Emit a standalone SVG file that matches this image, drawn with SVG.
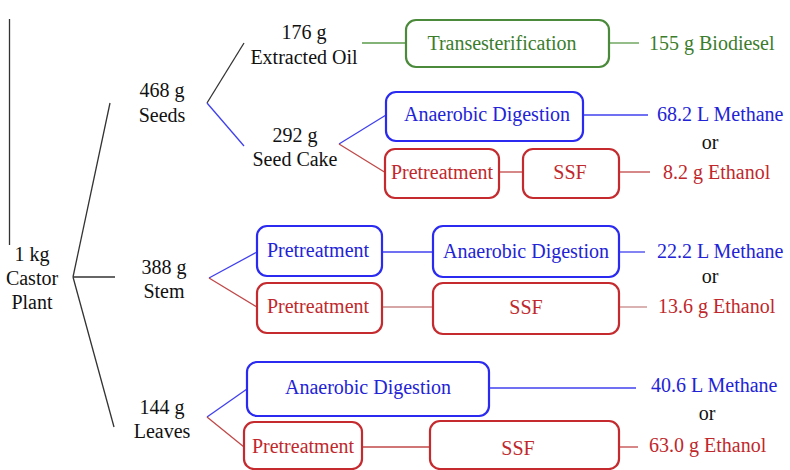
<svg xmlns="http://www.w3.org/2000/svg" width="790" height="470" viewBox="0 0 790 470">
  <style>
    .k { fill: #111; }
    .g { fill: #3b7d2c; }
    .b { fill: #2323d6; }
    .r { fill: #c0282c; }
    .mid { text-anchor: middle; }
    .box { fill: #fff; stroke-width: 2.2; }
    .bg { stroke: #4a8a3a; }
    .bb { stroke: #2a2af0; }
    .br { stroke: #c42a2e; }
    .ln { fill: none; stroke-width: 1.3; }
    .lk { stroke: #333; }
    .lg { stroke: #5a9a4a; }
    .lb { stroke: #4040ee; }
    .lr { stroke: #c04848; }
    .lp { stroke: #c88888; }
  </style>

  <!-- connectors -->
  <g id="connectors" class="ln">
    <line class="lk" x1="9.5" y1="19" x2="9.5" y2="245"/>
    <!-- plant to parts -->
    <line class="lk" x1="73" y1="277" x2="110" y2="103"/>
    <line class="lk" x1="73" y1="277" x2="115" y2="277"/>
    <line class="lk" x1="73" y1="277" x2="114" y2="427"/>
    <!-- seeds -->
    <line class="lk" x1="207" y1="103" x2="244" y2="43"/>
    <line class="lb" x1="207" y1="103" x2="244" y2="146"/>
    <line class="lg" x1="362" y1="43" x2="406" y2="43"/>
    <line class="lg" x1="609" y1="43" x2="639" y2="43"/>
    <!-- seed cake -->
    <line class="lb" x1="339" y1="144" x2="386" y2="115"/>
    <line class="lr" x1="339" y1="144" x2="386" y2="173"/>
    <line class="lb" x1="583" y1="115" x2="648" y2="115"/>
    <line class="lr" x1="499" y1="172" x2="523" y2="172"/>
    <line class="lr" x1="619" y1="172" x2="650" y2="172"/>
    <!-- stem -->
    <line class="lb" x1="209" y1="278" x2="257" y2="252"/>
    <line class="lr" x1="209" y1="278" x2="257" y2="307"/>
    <line class="lb" x1="382" y1="252" x2="433" y2="252"/>
    <line class="lb" x1="619" y1="252" x2="645" y2="252"/>
    <line class="lp" x1="382" y1="307" x2="433" y2="307"/>
    <line class="lp" x1="619" y1="307" x2="647" y2="307"/>
    <!-- leaves -->
    <line class="lb" x1="207" y1="417" x2="247" y2="389"/>
    <line class="lr" x1="207" y1="417" x2="244" y2="447"/>
    <line class="lb" x1="489" y1="388" x2="636" y2="388"/>
    <line class="lr" x1="362" y1="447" x2="430" y2="447"/>
    <line class="lr" x1="619" y1="447" x2="638" y2="447"/>
  </g>

  <g font-family="Liberation Serif, serif" font-size="20">
  <!-- source and fractions -->
  <g id="castor-plant">
    <text class="k mid" x="32" y="261">1 kg</text>
    <text class="k mid" x="32" y="285">Castor</text>
    <text class="k mid" x="32" y="309">Plant</text>
  </g>
  <g id="seeds">
    <text class="k mid" x="162" y="97">468 g</text>
    <text class="k mid" x="162" y="122">Seeds</text>
  </g>
  <g id="oil">
    <text class="k mid" x="304" y="39">176 g</text>
    <text class="k mid" x="304" y="64">Extracted Oil</text>
  </g>
  <g id="seed-cake">
    <text class="k mid" x="295" y="142">292 g</text>
    <text class="k mid" x="295" y="166">Seed Cake</text>
  </g>
  <g id="stem">
    <text class="k mid" x="164" y="274">388 g</text>
    <text class="k mid" x="164" y="298">Stem</text>
  </g>
  <g id="leaves">
    <text class="k mid" x="162" y="414">144 g</text>
    <text class="k mid" x="162" y="438">Leaves</text>
  </g>

  <!-- oil route -->
  <g id="transesterification">
    <rect class="box bg" x="406" y="20" width="203" height="47" rx="10"/>
    <text class="g mid" x="502" y="50">Transesterification</text>
  </g>
  <g id="biodiesel"><text class="g" x="649" y="50">155 g Biodiesel</text></g>

  <!-- seed cake routes -->
  <g id="cake-ad">
    <rect class="box bb" x="386" y="92" width="197" height="49" rx="10"/>
    <text class="b mid" x="487" y="121">Anaerobic Digestion</text>
  </g>
  <g id="cake-pretreatment">
    <rect class="box br" x="385" y="149" width="114" height="49" rx="10"/>
    <text class="r mid" x="442" y="179">Pretreatment</text>
  </g>
  <g id="cake-ssf">
    <rect class="box br" x="523" y="149" width="96" height="49" rx="10"/>
    <text class="r mid" x="570" y="179">SSF</text>
  </g>
  <g id="cake-methane"><text class="b" x="657" y="121">68.2 L Methane</text></g>
  <g id="cake-or"><text class="k mid" x="710" y="149">or</text></g>
  <g id="cake-ethanol"><text class="r" x="663" y="179">8.2 g Ethanol</text></g>

  <!-- stem routes -->
  <g id="stem-pretreatment-ad">
    <rect class="box bb" x="257" y="226" width="125" height="50" rx="10"/>
    <text class="b mid" x="318" y="257">Pretreatment</text>
  </g>
  <g id="stem-ad">
    <rect class="box bb" x="433" y="226" width="186" height="51" rx="10"/>
    <text class="b mid" x="526" y="258">Anaerobic Digestion</text>
  </g>
  <g id="stem-pretreatment-ssf">
    <rect class="box br" x="257" y="283" width="125" height="50" rx="10"/>
    <text class="r mid" x="318" y="313">Pretreatment</text>
  </g>
  <g id="stem-ssf">
    <rect class="box br" x="433" y="283" width="186" height="51" rx="10"/>
    <text class="r mid" x="526" y="314">SSF</text>
  </g>
  <g id="stem-methane"><text class="b" x="657" y="258">22.2 L Methane</text></g>
  <g id="stem-or"><text class="k mid" x="710" y="283">or</text></g>
  <g id="stem-ethanol"><text class="r" x="658" y="313">13.6 g Ethanol</text></g>

  <!-- leaf routes -->
  <g id="leaves-ad">
    <rect class="box bb" x="247" y="362" width="242" height="54" rx="10"/>
    <text class="b mid" x="368" y="394">Anaerobic Digestion</text>
  </g>
  <g id="leaves-pretreatment">
    <rect class="box br" x="244" y="422" width="118" height="47" rx="10"/>
    <text class="r mid" x="303" y="453">Pretreatment</text>
  </g>
  <g id="leaves-ssf">
    <rect class="box br" x="430" y="421" width="189" height="48" rx="10"/>
    <text class="r mid" x="518" y="455">SSF</text>
  </g>
  <g id="leaves-methane"><text class="b" x="651" y="392">40.6 L Methane</text></g>
  <g id="leaves-or"><text class="k mid" x="707" y="420">or</text></g>
  <g id="leaves-ethanol"><text class="r" x="649" y="452">63.0 g Ethanol</text></g>
  </g>
</svg>
